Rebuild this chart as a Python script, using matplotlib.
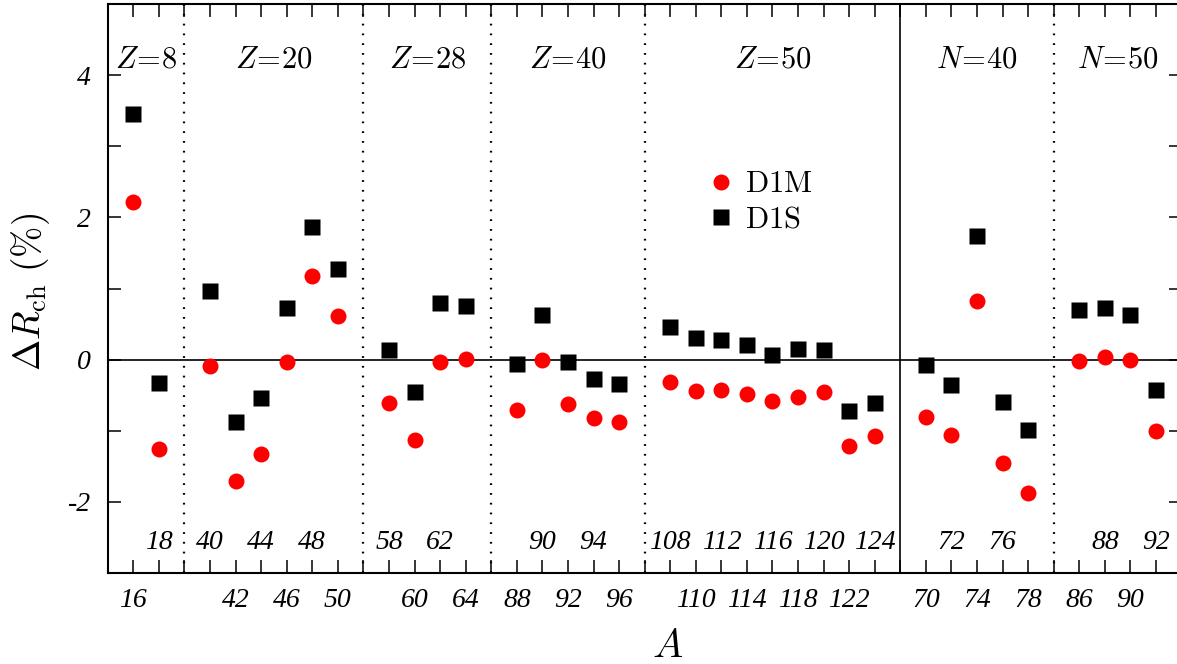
import matplotlib
matplotlib.use("Agg")
import matplotlib.pyplot as plt
import numpy as np

plt.rcParams['mathtext.fontset'] = 'cm'
plt.rcParams['axes.unicode_minus'] = False

# ---- data ----
group_names = [r'$Z\!=\!8$', r'$Z\!=\!20$', r'$Z\!=\!28$', r'$Z\!=\!40$',
               r'$Z\!=\!50$', r'$N\!=\!40$', r'$N\!=\!50$']
group_A = [
    [16, 18],
    [40, 42, 44, 46, 48, 50],
    [58, 60, 62, 64],
    [88, 90, 92, 94, 96],
    [108, 110, 112, 114, 116, 118, 120, 122, 124],
    [70, 72, 74, 76, 78],
    [86, 88, 90, 92],
]
d1m = [
    [2.22, -1.26],
    [-0.09, -1.70, -1.32, -0.03, 1.18, 0.62],
    [-0.61, -1.13, -0.03, 0.01],
    [-0.71, 0.00, -0.63, -0.82, -0.88],
    [-0.31, -0.44, -0.43, -0.48, -0.58, -0.52, -0.46, -1.22, -1.08],
    [-0.81, -1.06, 0.82, -1.46, -1.87],
    [-0.02, 0.03, 0.00, -1.01],
]
d1s = [
    [3.45, -0.33],
    [0.96, -0.87, -0.54, 0.72, 1.87, 1.28],
    [0.13, -0.46, 0.79, 0.75],
    [-0.06, 0.63, -0.04, -0.27, -0.34],
    [0.46, 0.30, 0.28, 0.20, 0.07, 0.15, 0.14, -0.72, -0.61],
    [-0.08, -0.35, 1.74, -0.59, -0.99],
    [0.70, 0.72, 0.63, -0.43],
]
# row of each A label: 'b' = below axis, 't' = inside above axis
label_rows = [
    ['b', 't'],
    ['t', 'b', 't', 'b', 't', 'b'],
    ['t', 'b', 't', 'b'],
    ['b', 't', 'b', 't', 'b'],
    ['t', 'b', 't', 'b', 't', 'b', 't', 'b', 't'],
    ['b', 't', 'b', 't', 'b'],
    ['b', 't', 'b', 't'],
]
separator_solid = [False, False, False, False, True, False]

# ---- positions (sequential index with one empty slot between groups) ----
xs_groups = []
seps = []
pos = 1
for g in group_A:
    xs = list(range(pos, pos + len(g)))
    xs_groups.append(xs)
    pos += len(g)
    seps.append(pos)
    pos += 1
xmax = seps[-1]
seps = seps[:-1]

fig = plt.figure(figsize=(11.77, 6.64), dpi=100)
W, H = 1177, 664
x0, x1, y0, y1 = 107.7, 1181.6, 4, 573
ax = fig.add_axes([x0 / W, 1 - y1 / H, (x1 - x0) / W, (y1 - y0) / H])

ax.set_xlim(0, xmax)
ax.set_ylim(-3, 5)

all_x = np.concatenate([np.array(x) for x in xs_groups])
all_m = np.concatenate([np.array(v) for v in d1m])
all_s = np.concatenate([np.array(v) for v in d1s])

ax.axhline(0, color='black', lw=1.2, zorder=1)
for s, solid in zip(seps, separator_solid):
    if solid:
        ax.axvline(s, color='black', lw=1.2, zorder=1)
    else:
        ax.axvline(s, color='black', lw=1.6, ls=(0, (0.8, 3.6)), zorder=1)

ax.plot(all_x, all_m, 'o', color='#ff0000', ms=11.5, mec='none', label=r'$\mathrm{D1M}$', zorder=3)
ax.plot(all_x, all_s, 's', color='black', ms=11, mec='none', label=r'$\mathrm{D1S}$', zorder=3)

# group titles
bounds = [0] + seps + [xmax]
for i, name in enumerate(group_names):
    ax.text((bounds[i] + bounds[i + 1]) / 2, 4.22, name, ha='center', va='center', fontsize=22)

# ticks
ax.set_xticks(np.arange(0, xmax + 1))
ax.set_xticklabels([])
ax.set_yticks([-2, 0, 2, 4])
ax.set_yticklabels(['-2', '0', '2', '4'], fontfamily='Liberation Serif', style='italic', fontsize=20)
ax.set_yticks([-3, -1, 1, 3, 5], minor=True)
ax.tick_params(axis='both', which='both', direction='in', length=9.5, width=1.1,
               top=True, right=True)
ax.tick_params(axis='y', which='major', pad=12)
for sp in ax.spines.values():
    sp.set_linewidth(1.5)

trans = ax.get_xaxis_transform()
for xs, As, rows in zip(xs_groups, group_A, label_rows):
    for x, a, r in zip(xs, As, rows):
        yy = -0.048 if r == 'b' else 0.053
        ax.text(x, yy, str(a), transform=trans, ha='center', va='center',
                fontfamily='Liberation Serif', style='italic', fontsize=20)

ax.set_xlabel(r'$A$', fontsize=29)
ax.xaxis.set_label_coords(0.521, -0.093)
ax.set_ylabel(r'$\Delta R_{\mathrm{ch}}\ (\%)$', fontsize=27)
ax.yaxis.set_label_coords(-0.052, 0.494)

ax.legend(loc='upper left', bbox_to_anchor=(0.560, 0.7095), frameon=False, fontsize=22,
          handlelength=0.8, handletextpad=0.37, borderaxespad=0, labelspacing=0.2,
          borderpad=0)

fig.savefig('out.png', dpi=100)
